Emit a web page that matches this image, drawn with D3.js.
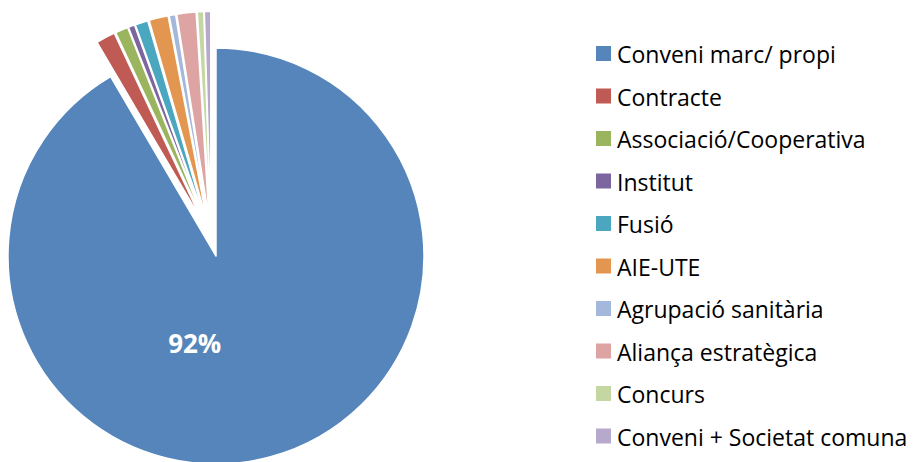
<!DOCTYPE html>
<html>
<head>
<meta charset="utf-8">
<script src="https://cdn.jsdelivr.net/npm/d3@7"></script>
<style>
  body { margin: 0; background: #fff; }
  svg { display: block; }
</style>
</head>
<body>
<div id="chart"></div>
<script>
// categories and counts
const categories = [
  "Conveni marc/ propi", "Contracte", "Associació/Cooperativa", "Institut",
  "Fusió", "AIE-UTE", "Agrupació sanitària", "Aliança estratègica",
  "Concurs", "Conveni + Societat comuna"
];
const counts = [184, 3, 2, 1, 2, 3, 1, 3, 1, 1];
const colors = [
  "#5585ba", "#bf5a55", "#9bb55f", "#7d66a0", "#4ba6bf",
  "#e3964f", "#a4b8db", "#dda4a3", "#c4d7a2", "#b7a9cb"
];

const width = 913, height = 462;
const cx = 216, cy = 256, radius = 208;
const explode = 37;

const svg = d3.select("#chart").append("svg")
  .attr("width", width)
  .attr("height", height);

const data = categories.map((c, i) => ({ name: c, value: counts[i], color: colors[i] }));
const total = d3.sum(counts);

const pie = d3.pie().sort(null).value(d => d.value);
const arcs = pie(data);
const arc = d3.arc().innerRadius(0).outerRadius(radius);

// the small slices are pulled out, roughly along the group's middle direction
const small = arcs.slice(1);
const groupMid = (small[0].startAngle + small[small.length - 1].endAngle) / 2;

const g = svg.append("g").attr("transform", `translate(${cx},${cy})`);

g.selectAll("path")
  .data(arcs)
  .enter().append("path")
    .attr("d", arc)
    .attr("fill", d => d.data.color)
    .attr("stroke", "#fff")
    .attr("stroke-width", 1.5)
    .attr("stroke-linejoin", "round")
    .attr("transform", (d, i) => {
      if (i === 0) return null;
      const mid = ((d.startAngle + d.endAngle) / 2 + groupMid) / 2;
      return `translate(${Math.sin(mid) * explode},${-Math.cos(mid) * explode})`;
    });

// percentage label on the big slice (Excel places it a bit left of the bisector)
const big = arcs[0];
const labelAngle = Math.PI * 1.076, labelR = 90;
g.append("text")
  .attr("x", Math.sin(labelAngle) * labelR)
  .attr("y", -Math.cos(labelAngle) * labelR)
  .attr("text-anchor", "middle")
  .attr("dominant-baseline", "central")
  .attr("fill", "#fff")
  .attr("font-family", "'Open Sans', sans-serif")
  .attr("font-weight", "bold")
  .attr("font-size", "26px")
  .text(d3.format(".0%")(big.value / total));

// legend
const legend = svg.append("g").attr("transform", "translate(596,46)");
const items = legend.selectAll(".item")
  .data(data)
  .enter().append("g")
    .attr("class", "item")
    .attr("transform", (d, i) => `translate(0,${i * 42.5})`);

items.append("rect")
  .attr("width", 15)
  .attr("height", 15)
  .attr("fill", d => d.color);

items.append("text")
  .attr("x", 21)
  .attr("y", 8)
  .attr("dominant-baseline", "central")
  .attr("font-family", "'Open Sans', sans-serif")
  .attr("font-size", "23px")
  .attr("fill", "#000")
  .text(d => d.name);
</script>
</body>
</html>
